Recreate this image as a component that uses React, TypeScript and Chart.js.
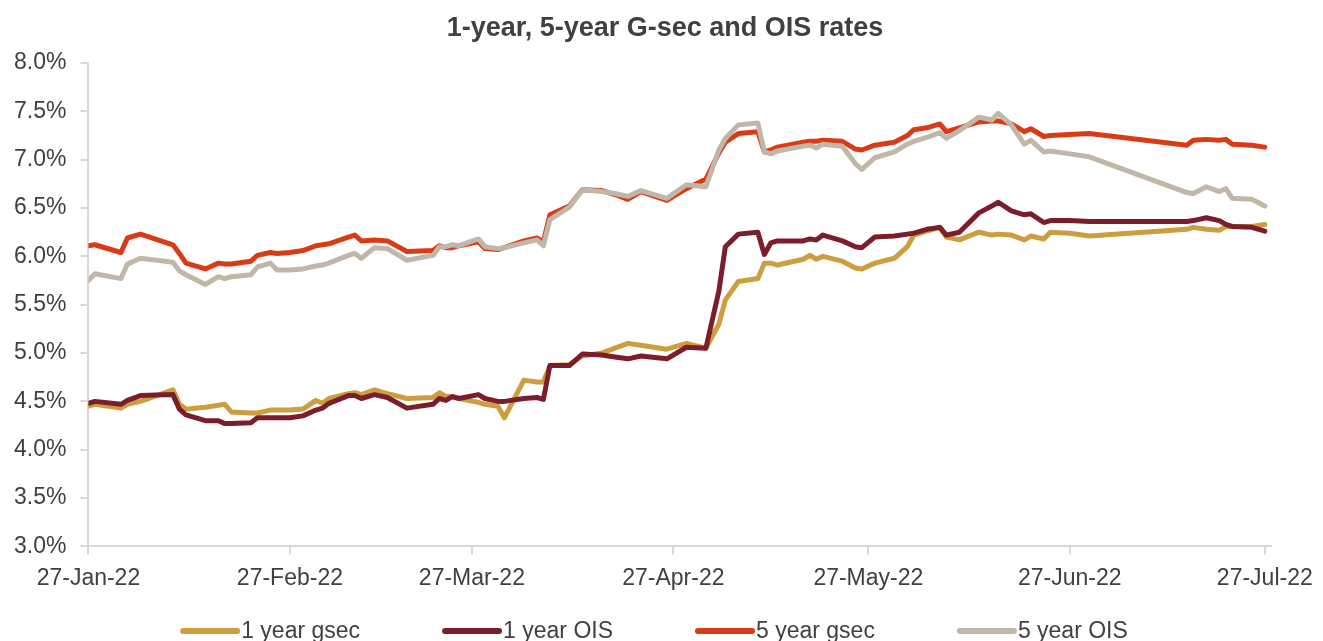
import React, { useEffect, useRef } from "react";
import { Chart, registerables } from "chart.js";

Chart.register(...registerables);

const TITLE = "1-year, 5-year G-sec and OIS rates";
const FONT = "'Liberation Sans', Arial, sans-serif";

// x positions are days after 27-Jan-22
const tickDays = [0, 31, 59, 90, 120, 151, 181];
const tickLabels = ["27-Jan-22", "27-Feb-22", "27-Mar-22", "27-Apr-22", "27-May-22", "27-Jun-22", "27-Jul-22"];

const days = [
  0, 1, 5, 6, 8, 13, 14, 15, 18, 20, 21, 22, 25, 26, 28, 29, 31, 33, 35, 36,
  37, 40, 41, 42, 44, 46, 49, 53, 54, 55, 56, 57, 60, 61, 63, 64, 67, 69, 70, 71,
  74, 76, 79, 81, 83, 85, 89, 92, 95, 97, 98, 100, 103, 104, 105, 106, 110, 111, 112, 113,
  116, 118, 119, 121, 124, 126, 127, 129, 131, 132, 134, 137, 139, 140, 142, 144, 145, 147, 148, 151,
  154, 169, 170, 172, 174, 175, 176, 179, 181,
];

const oneYearGsec = [
  4.45, 4.47, 4.43, 4.47, 4.50, 4.62, 4.47, 4.42, 4.44, 4.46, 4.47, 4.39, 4.38, 4.38, 4.41, 4.41, 4.41, 4.42, 4.51, 4.48,
  4.53, 4.58, 4.59, 4.57, 4.62, 4.58, 4.53, 4.54, 4.59, 4.55, 4.55, 4.53, 4.49, 4.47, 4.45, 4.33, 4.72, 4.70, 4.70, 4.87,
  4.88, 4.97, 5.00, 5.05, 5.10, 5.08, 5.04, 5.10, 5.05, 5.30, 5.55, 5.74, 5.77, 5.93, 5.93, 5.91, 5.97, 6.01, 5.97, 6.00,
  5.95, 5.88, 5.87, 5.93, 5.98, 6.10, 6.22, 6.26, 6.30, 6.20, 6.17, 6.25, 6.22, 6.23, 6.22, 6.17, 6.21, 6.18, 6.25, 6.24,
  6.21, 6.28, 6.30, 6.28, 6.27, 6.31, 6.31, 6.31, 6.33,
];

const oneYearOis = [
  4.48, 4.50, 4.47, 4.51, 4.56, 4.57, 4.42, 4.36, 4.30, 4.30, 4.27, 4.27, 4.28, 4.33, 4.33, 4.33, 4.33, 4.35, 4.41, 4.43,
  4.48, 4.56, 4.56, 4.53, 4.57, 4.54, 4.43, 4.47, 4.53, 4.51, 4.55, 4.53, 4.57, 4.53, 4.50, 4.50, 4.53, 4.54, 4.52, 4.87,
  4.87, 4.99, 4.98, 4.96, 4.94, 4.97, 4.94, 5.06, 5.05, 5.64, 6.10, 6.23, 6.25, 6.02, 6.14, 6.16, 6.16, 6.18, 6.17, 6.22,
  6.16, 6.10, 6.09, 6.20, 6.21, 6.23, 6.24, 6.28, 6.30, 6.22, 6.25, 6.45, 6.52, 6.56, 6.47, 6.43, 6.44, 6.35, 6.37, 6.37,
  6.36, 6.36, 6.37, 6.40, 6.37, 6.33, 6.31, 6.30, 6.26,
];

const fiveYearGsec = [
  6.11, 6.12, 6.04, 6.19, 6.23, 6.12, 6.03, 5.93, 5.87, 5.93, 5.92, 5.92, 5.95, 6.01, 6.04, 6.03, 6.04, 6.06, 6.11, 6.12,
  6.13, 6.20, 6.22, 6.16, 6.17, 6.16, 6.05, 6.06, 6.11, 6.09, 6.09, 6.11, 6.15, 6.08, 6.07, 6.09, 6.16, 6.19, 6.15, 6.43,
  6.52, 6.69, 6.68, 6.64, 6.59, 6.67, 6.58, 6.70, 6.80, 7.07, 7.18, 7.27, 7.29, 7.08, 7.10, 7.13, 7.18, 7.19, 7.19, 7.20,
  7.19, 7.11, 7.10, 7.15, 7.18, 7.25, 7.31, 7.33, 7.37, 7.29, 7.33, 7.39, 7.40, 7.40, 7.37, 7.29, 7.32, 7.24, 7.25, 7.26,
  7.27, 7.15, 7.20, 7.21, 7.20, 7.21, 7.16, 7.15, 7.13,
];

const fiveYearOis = [
  5.75, 5.82, 5.77, 5.92, 5.98, 5.94, 5.85, 5.81, 5.71, 5.79, 5.77, 5.79, 5.81, 5.89, 5.93, 5.86, 5.86, 5.87, 5.90, 5.91,
  5.93, 6.01, 6.03, 5.98, 6.09, 6.08, 5.96, 6.01, 6.10, 6.10, 6.12, 6.11, 6.18, 6.10, 6.08, 6.09, 6.14, 6.17, 6.11, 6.38,
  6.51, 6.69, 6.67, 6.65, 6.62, 6.68, 6.60, 6.74, 6.72, 7.10, 7.22, 7.36, 7.38, 7.08, 7.06, 7.09, 7.14, 7.15, 7.12, 7.16,
  7.14, 6.96, 6.90, 7.02, 7.08, 7.16, 7.19, 7.23, 7.28, 7.22, 7.30, 7.44, 7.41, 7.48, 7.36, 7.16, 7.20, 7.08, 7.09, 7.06,
  7.03, 6.66, 6.65, 6.72, 6.67, 6.70, 6.60, 6.59, 6.52,
];

const seriesNames = ["1 year gsec", "1 year OIS", "5 year gsec", "5 year OIS"];
const seriesValues = [oneYearGsec, oneYearOis, fiveYearGsec, fiveYearOis];
const seriesColors = ["#CC9E3E", "#7C1D2B", "#DA3B17", "#C0B7A9"];
const seriesOrder = [4, 3, 2, 1];

const TEXT = "#404040";
const AXIS = "#d9d9d9";

const titleAndLegend = {
  id: "titleAndLegend",
  afterDraw(chart: any) {
    const ctx = chart.ctx;
    ctx.save();
    // title
    ctx.font = `bold 27px ${FONT}`;
    ctx.fillStyle = TEXT;
    ctx.textAlign = "center";
    ctx.textBaseline = "middle";
    ctx.fillText(TITLE, 665, 29);

    // legend
    ctx.font = `23px ${FONT}`;
    const sw = 60;
    const gap = 1;
    const spacing = 82;
    const items = chart.data.datasets.map((d: any) => ({
      label: d.label,
      color: d.borderColor,
      w: ctx.measureText(d.label).width,
    }));
    const total =
      items.reduce((s: number, it: any) => s + sw + gap + it.w, 0) + spacing * (items.length - 1);
    let x = 654 - total / 2;
    const y = 631;
    items.forEach((it: any) => {
      ctx.strokeStyle = it.color;
      ctx.lineWidth = 6;
      ctx.lineCap = "round";
      ctx.beginPath();
      ctx.moveTo(x + 3, y);
      ctx.lineTo(x + sw - 3, y);
      ctx.stroke();
      ctx.fillStyle = TEXT;
      ctx.textBaseline = "middle";
      ctx.textAlign = "left";
      ctx.fillText(it.label, x + sw + gap, y + 1);
      x += sw + gap + it.w + spacing;
    });
    ctx.restore();
  },
};

export default function App() {
  const ref = useRef<HTMLCanvasElement | null>(null);

  useEffect(() => {
    if (!ref.current) return;
    const chart = new Chart(ref.current, {
      type: "line",
      data: {
        datasets: seriesNames.map((name, s) => ({
          label: name,
          data: days.map((d, i) => ({ x: d, y: seriesValues[s][i] })),
          borderColor: seriesColors[s],
          backgroundColor: seriesColors[s],
          borderWidth: 5,
          pointRadius: 0,
          tension: 0,
          fill: false,
          borderJoinStyle: "round",
          borderCapStyle: "round",
          order: seriesOrder[s],
        })),
      },
      options: {
        responsive: false,
        animation: false,
        devicePixelRatio: 1,
        layout: { padding: { left: 0, right: 46, top: 63, bottom: 58 } },
        plugins: {
          legend: { display: false },
          tooltip: { enabled: false },
          title: { display: false },
        },
        scales: {
          x: {
            type: "linear",
            min: 0,
            max: 182,
            afterBuildTicks: (axis: any) => {
              axis.ticks = tickDays.map((v) => ({ value: v }));
            },
            ticks: {
              autoSkip: false,
              maxRotation: 0,
              padding: 10,
              color: TEXT,
              font: { family: FONT, size: 23 },
              callback: (v: any) => {
                const i = tickDays.indexOf(Number(v));
                return i >= 0 ? tickLabels[i] : "";
              },
            },
            grid: { drawOnChartArea: false, drawTicks: true, tickLength: 8, color: AXIS, lineWidth: 2 },
            border: { color: AXIS, width: 2 },
          },
          y: {
            min: 3,
            max: 8,
            ticks: {
              stepSize: 0.5,
              padding: 14,
              color: TEXT,
              font: { family: FONT, size: 23 },
              callback: (v: any) => Number(v).toFixed(1) + "%",
            },
            grid: { drawOnChartArea: false, drawTicks: true, tickLength: 8, color: AXIS, lineWidth: 2 },
            border: { color: AXIS, width: 2 },
          },
        },
      },
      plugins: [titleAndLegend],
    });
    return () => chart.destroy();
  }, []);

  return (
    <div
      style={{
        position: "fixed",
        left: 0,
        top: 0,
        width: 1323,
        height: 641,
        overflow: "hidden",
        background: "#ffffff",
      }}
    >
      <canvas ref={ref} width={1323} height={660} style={{ display: "block" }} />
    </div>
  );
}
